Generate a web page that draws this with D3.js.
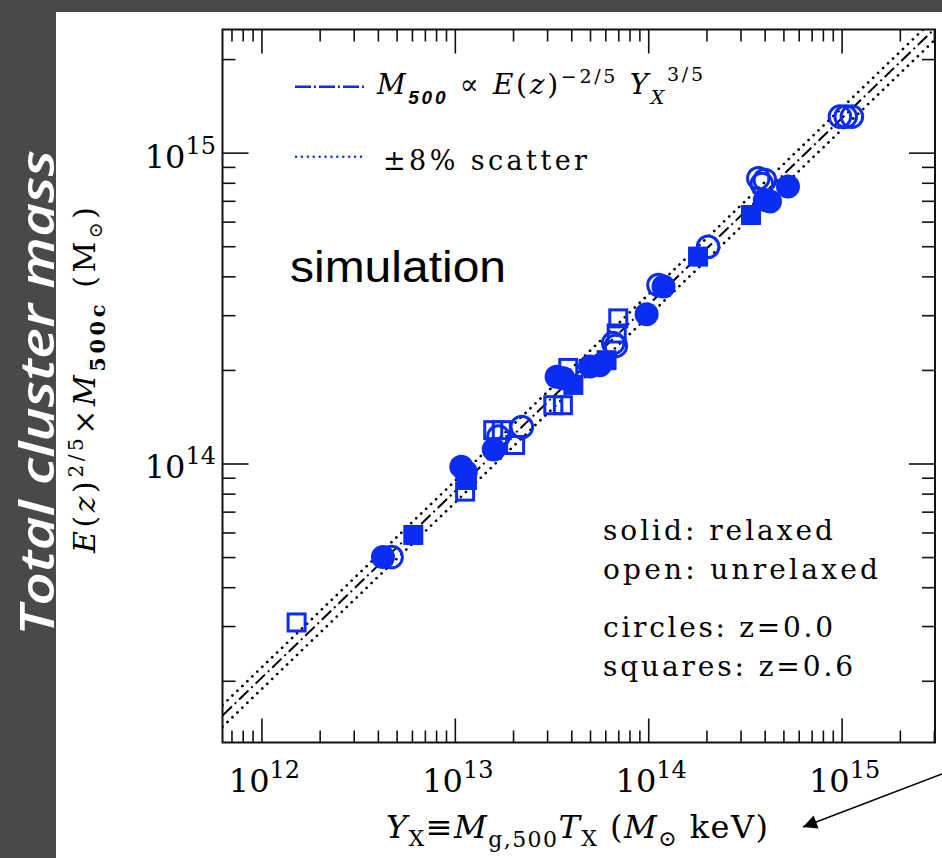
<!DOCTYPE html>
<html>
<head>
<meta charset="utf-8">
<script src="https://cdn.jsdelivr.net/npm/d3@7"></script>
<style>
body { margin: 0; background: #fff; }
svg { display: block; }
</style>
</head>
<body>
<svg id="chart" width="942" height="858"></svg>
<script>
// values: [Y_X (Msun keV), E(z)^2/5 M500c (Msun)]
var relaxedZ0 = [ // filled circles
  [4.25e12, 5.0e13], [1.08e13, 9.77e13], [1.14e13, 9.39e13], [1.59e13, 1.11e14],
  [3.36e13, 1.90e14], [3.64e13, 1.88e14], [5.0e13, 2.05e14], [5.62e13, 2.07e14],
  [9.81e13, 3.02e14], [1.20e14, 3.71e14], [4.01e14, 7.04e14], [4.26e14, 6.96e14],
  [5.28e14, 7.78e14]
];
var unrelaxedZ0 = [ // open circles
  [4.71e12, 5.0e13], [1.68e13, 1.22e14], [2.22e13, 1.31e14], [6.59e13, 2.44e14],
  [6.8e13, 2.39e14], [1.13e14, 3.75e14], [2.04e14, 4.98e14], [3.71e14, 8.27e14],
  [4.01e14, 8.17e14], [3.87e14, 7.93e14], [9.8e14, 1.306e15], [1.05e15, 1.306e15],
  [1.13e15, 1.306e15]
];
var relaxedZ06 = [ // filled squares
  [6.1e12, 5.89e13], [1.155e13, 8.85e13], [4.1e13, 1.79e14], [6.09e13, 2.15e14],
  [1.81e14, 4.63e14], [3.40e14, 6.30e14]
];
var unrelaxedZ06 = [ // open squares
  [1.52e12, 3.08e13], [1.13e13, 8.12e13], [1.58e13, 1.28e14], [1.75e13, 1.28e14],
  [2.05e13, 1.147e14], [3.23e13, 1.54e14], [3.62e13, 1.54e14], [3.86e13, 2.03e14],
  [6.87e13, 2.62e14], [7.0e13, 2.93e14]
];

// M500 = norm * Yx^(3/5), with +-8% scatter
var fitNorm = 1.288e6;
var fitSlope = 0.6;
var scatter = 0.08;

var xDomain = [6.29e11, 3.04e15];
var yDomain = [1.266e13, 2.49e15];
var xMajor = [1e12, 1e13, 1e14, 1e15];
var yMajor = [1e14, 1e15];

var notes = ["solid: relaxed", "open: unrelaxed", "circles: z=0.0", "squares: z=0.6"];

var blue = "#0b2cf2";
var serif = "'DejaVu Serif', serif";

var svg = d3.select("#chart");
var plot = {left: 222.5, right: 935, top: 29.5, bottom: 742.5};

// backdrop of the slide
svg.append("rect").attr("width", 942).attr("height", 858).attr("fill", "#4b4848");
svg.append("rect").attr("x", 56).attr("y", 12).attr("width", 886).attr("height", 846).attr("fill", "#fff");

var x = d3.scaleLog().domain(xDomain).range([plot.left, plot.right]);
var y = d3.scaleLog().domain(yDomain).range([plot.bottom, plot.top]);

function minorTicks(dom) {
  var t = [];
  for (var e = Math.floor(Math.log10(dom[0])); e <= Math.ceil(Math.log10(dom[1])); e++) {
    for (var m = 2; m < 10; m++) {
      var v = m * Math.pow(10, e);
      if (v >= dom[0] && v <= dom[1]) t.push(v);
    }
  }
  return t;
}

function tickAxis(g, axis) {
  g.call(axis);
  g.select(".domain").remove();
  g.selectAll("line").attr("stroke", "#111").attr("stroke-width", 1.6);
  g.selectAll("text").remove();
}

var axes = svg.append("g");
[[d3.axisBottom, plot.bottom], [d3.axisTop, plot.top]].forEach(function (a) {
  axes.append("g").attr("transform", `translate(0,${a[1]})`)
    .call(g => tickAxis(g, a[0](x).tickValues(minorTicks(xDomain)).tickSize(-12).tickSizeOuter(0)));
  axes.append("g").attr("transform", `translate(0,${a[1]})`)
    .call(g => tickAxis(g, a[0](x).tickValues(xMajor).tickSize(-24).tickSizeOuter(0)));
});
[[d3.axisLeft, plot.left], [d3.axisRight, plot.right]].forEach(function (a) {
  axes.append("g").attr("transform", `translate(${a[1]},0)`)
    .call(g => tickAxis(g, a[0](y).tickValues(minorTicks(yDomain)).tickSize(-13).tickSizeOuter(0)));
  axes.append("g").attr("transform", `translate(${a[1]},0)`)
    .call(g => tickAxis(g, a[0](y).tickValues(yMajor).tickSize(-26).tickSizeOuter(0)));
});

svg.append("rect")
  .attr("x", plot.left).attr("y", plot.top)
  .attr("width", plot.right - plot.left).attr("height", plot.bottom - plot.top)
  .attr("fill", "none").attr("stroke", "#111").attr("stroke-width", 2);

// tick labels 10^n
function powLabel(sel) {
  sel.each(function (d) {
    var t = d3.select(this);
    t.append("tspan").text("10");
    t.append("tspan").attr("dy", -14).attr("font-size", 24).text(Math.round(Math.log10(d)));
  });
}
svg.append("g").selectAll("text").data(xMajor).join("text")
  .attr("x", d => x(d) + 3).attr("y", 791.5)
  .attr("text-anchor", "middle").attr("font-family", serif).attr("font-size", 32)
  .call(powLabel);
svg.append("g").selectAll("text").data(yMajor).join("text")
  .attr("x", 216).attr("y", d => y(d) + 15)
  .attr("text-anchor", "end").attr("font-family", serif).attr("font-size", 32)
  .call(powLabel);

// relation and scatter lines
svg.append("clipPath").attr("id", "plotclip").append("rect")
  .attr("x", plot.left).attr("y", plot.top)
  .attr("width", plot.right - plot.left).attr("height", plot.bottom - plot.top);

var rel = d3.line().x(d => x(d[0])).y(d => y(d[1]));
function relation(f) {
  return xDomain.map(v => [v, f * fitNorm * Math.pow(v, fitSlope)]);
}
var lines = svg.append("g").attr("clip-path", "url(#plotclip)").attr("fill", "none");
lines.append("path").datum(relation(1))
  .attr("stroke", "#000").attr("stroke-width", 2)
  .attr("stroke-dasharray", "13,4,2,4")
  .attr("d", rel);
[1 + scatter, 1 - scatter].forEach(function (f) {
  lines.append("path").datum(relation(f))
    .attr("stroke", "#000").attr("stroke-width", 2.7)
    .attr("stroke-linecap", "round")
    .attr("stroke-dasharray", "0.1,6.8")
    .attr("d", rel);
});

// points
var pts = svg.append("g").attr("clip-path", "url(#plotclip)");
pts.append("g").selectAll("circle").data(relaxedZ0).join("circle")
  .attr("cx", d => x(d[0])).attr("cy", d => y(d[1])).attr("r", 12)
  .attr("fill", blue);
pts.append("g").selectAll("circle").data(unrelaxedZ0).join("circle")
  .attr("cx", d => x(d[0])).attr("cy", d => y(d[1])).attr("r", 10.8)
  .attr("fill", "none").attr("stroke", blue).attr("stroke-width", 3);
pts.append("g").selectAll("rect").data(relaxedZ06).join("rect")
  .attr("x", d => x(d[0]) - 10).attr("y", d => y(d[1]) - 10)
  .attr("width", 20).attr("height", 20)
  .attr("fill", blue);
pts.append("g").selectAll("rect").data(unrelaxedZ06).join("rect")
  .attr("x", d => x(d[0]) - 8.5).attr("y", d => y(d[1]) - 8.5)
  .attr("width", 17).attr("height", 17)
  .attr("fill", "none").attr("stroke", blue).attr("stroke-width", 3);

// legend
var leg = svg.append("g");
leg.append("line").attr("x1", 295).attr("x2", 366).attr("y1", 86.7).attr("y2", 86.7)
  .attr("stroke", blue).attr("stroke-width", 2.5).attr("stroke-dasharray", "16,3,2,3");
leg.append("line").attr("x1", 296).attr("x2", 366).attr("y1", 156.7).attr("y2", 156.7)
  .attr("stroke", blue).attr("stroke-width", 2.4).attr("stroke-linecap", "round")
  .attr("stroke-dasharray", "0.1,5.8");

var t1 = leg.append("text").attr("x", 377).attr("y", 94.3)
  .attr("font-family", serif).attr("font-size", 28)
  .attr("textLength", 326).attr("lengthAdjust", "spacing");
t1.append("tspan").attr("font-style", "italic").text("M");
t1.append("tspan").attr("dy", 10).attr("font-size", 19).attr("font-style", "italic")
  .attr("font-weight", "bold").attr("font-family", "'Liberation Sans', sans-serif").text("500");
t1.append("tspan").attr("dy", -10).text(" \u221D ");
t1.append("tspan").attr("font-style", "italic").text("E");
t1.append("tspan").text("(");
t1.append("tspan").attr("font-style", "italic").text("z");
t1.append("tspan").text(")");
t1.append("tspan").attr("dy", -11).attr("font-size", 19).text("\u22122/5");
t1.append("tspan").attr("dy", 11).text(" ");
t1.append("tspan").attr("font-style", "italic").text("Y");
t1.append("tspan").attr("dy", 10).attr("font-size", 19).attr("font-style", "italic").text("X");
t1.append("tspan").attr("dy", -23).attr("font-size", 19).text("3/5");

leg.append("text").attr("x", 383).attr("y", 170)
  .attr("font-family", serif).attr("font-size", 27)
  .attr("textLength", 204).attr("lengthAdjust", "spacing")
  .text("\u00B18% scatter");

svg.append("text").attr("x", 290).attr("y", 282)
  .attr("font-family", "'Liberation Sans', Arial, sans-serif").attr("font-size", 45)
  .attr("textLength", 216).attr("lengthAdjust", "spacingAndGlyphs")
  .text("simulation");

var noteY = [540, 579, 637, 676];
var noteW = [230, 275, 230, 250];
svg.append("g").selectAll("text").data(notes).join("text")
  .attr("x", 603).attr("y", (d, i) => noteY[i])
  .attr("font-family", serif).attr("font-size", 28)
  .attr("textLength", (d, i) => noteW[i]).attr("lengthAdjust", "spacing")
  .text(d => d);

// axis titles
var xt = svg.append("text").attr("x", 577).attr("y", 838)
  .attr("text-anchor", "middle").attr("font-family", serif).attr("font-size", 32)
  .attr("textLength", 382).attr("lengthAdjust", "spacing");
xt.append("tspan").attr("font-style", "italic").text("Y");
xt.append("tspan").attr("dy", 8).attr("font-size", 22).text("X");
xt.append("tspan").attr("dy", -8).text("\u2261");
xt.append("tspan").attr("font-style", "italic").text("M");
xt.append("tspan").attr("dy", 9).attr("font-size", 22).text("g,500");
xt.append("tspan").attr("dy", -9).attr("font-style", "italic").text("T");
xt.append("tspan").attr("dy", 8).attr("font-size", 22).text("X");
xt.append("tspan").attr("dy", -8).text(" (");
xt.append("tspan").attr("font-style", "italic").text("M");
xt.append("tspan").attr("dy", 8).attr("font-size", 22).text("\u2299");
xt.append("tspan").attr("dy", -8).text(" keV)");

var yt = svg.append("text").attr("transform", "translate(94.6,380) rotate(-90)")
  .attr("text-anchor", "middle").attr("font-family", serif).attr("font-size", 30)
  .attr("textLength", 346).attr("lengthAdjust", "spacing");
yt.append("tspan").attr("font-style", "italic").text("E");
yt.append("tspan").text("(");
yt.append("tspan").attr("font-style", "italic").text("z");
yt.append("tspan").text(")");
yt.append("tspan").attr("dy", -12).attr("font-size", 20).text("2/5");
yt.append("tspan").attr("dy", 12).text("\u00D7");
yt.append("tspan").attr("font-style", "italic").text("M");
yt.append("tspan").attr("dy", 10).attr("font-size", 21).attr("font-weight", "bold").text("500c");
yt.append("tspan").attr("dy", -10).text("  (M");
yt.append("tspan").attr("dy", 7).attr("font-size", 19).text("\u2299");
yt.append("tspan").attr("dy", -7).text(")");

// slide annotation
svg.append("text").attr("transform", "translate(54,393) rotate(-90)")
  .attr("text-anchor", "middle").attr("fill", "#fff")
  .attr("font-family", "'Open Sans', sans-serif").attr("font-style", "italic")
  .attr("font-weight", 600).attr("font-size", 47)
  .attr("textLength", 486).attr("lengthAdjust", "spacingAndGlyphs")
  .text("Total cluster mass");

svg.append("defs").append("marker").attr("id", "head")
  .attr("viewBox", "0 0 10 10").attr("refX", 10).attr("refY", 5)
  .attr("markerWidth", 24).attr("markerHeight", 14).attr("markerUnits", "userSpaceOnUse")
  .attr("orient", "auto")
  .append("path").attr("d", "M0,0L10,5L0,10Z").attr("fill", "#000");
svg.append("line").attr("x1", 942).attr("y1", 774).attr("x2", 803).attr("y2", 827)
  .attr("stroke", "#000").attr("stroke-width", 1.5).attr("marker-end", "url(#head)");
</script>
</body>
</html>
